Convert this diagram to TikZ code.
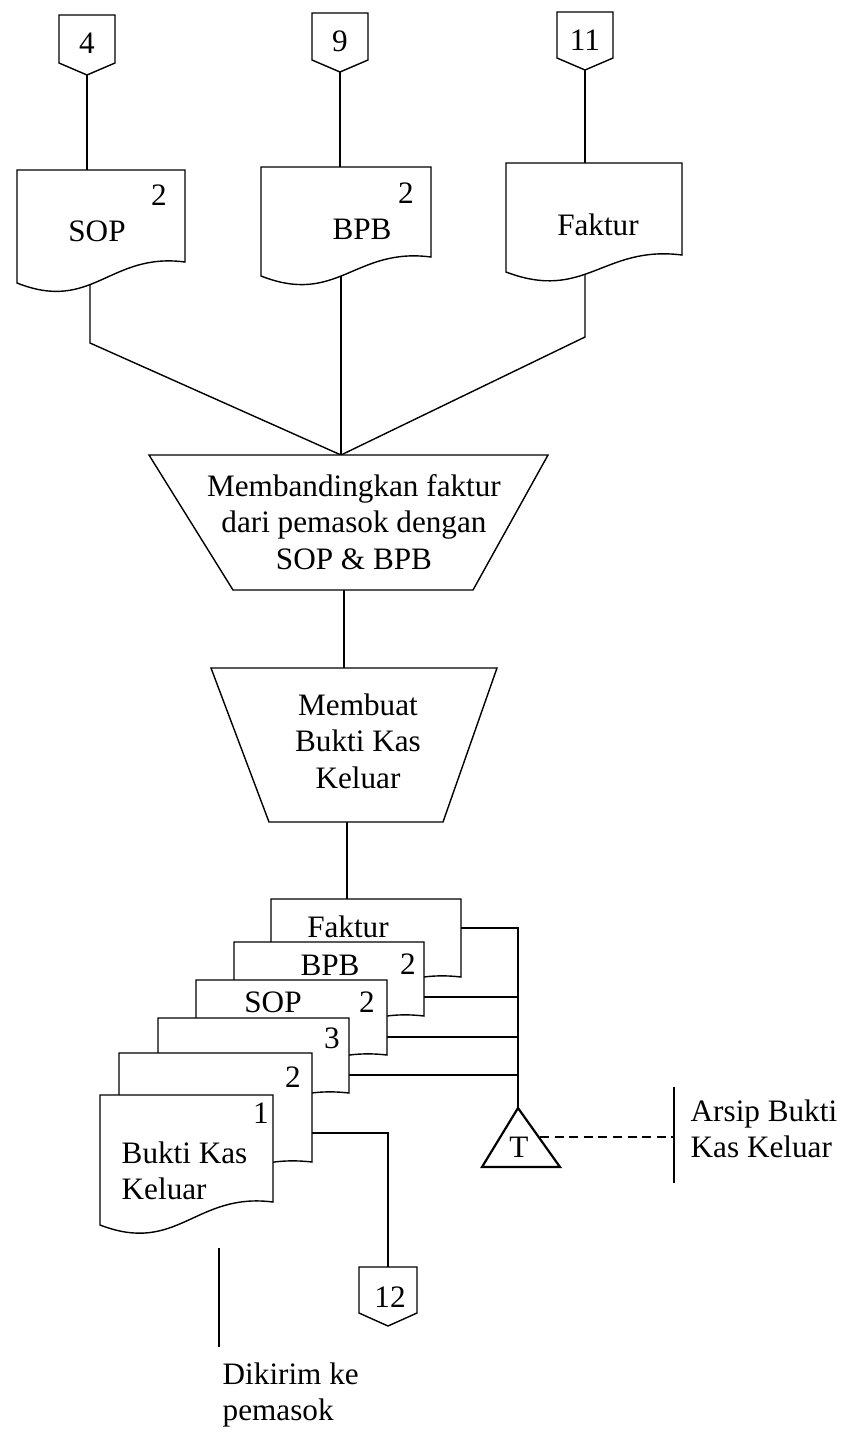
\documentclass[tikz,border=0pt]{standalone}
\usepackage{fontspec}
\setmainfont{Liberation Serif}
% document symbol: left x, right x, top y, bottom y at right edge, bottom y at left edge
\newcommand\flowdoc[5]{%
  \filldraw[fill=white] (#1,#3) -- (#2,#3) -- (#2,#4)
    .. controls ({#1+0.55*(#2-#1)},{#4-10}) and ({#1+0.45*(#2-#1)},{#5+30}) .. (#1,#5) -- cycle;}
% off-page connector: centre x, top y, half width, y where the sides end, tip y
\newcommand\offpage[5]{%
  \filldraw[fill=white] ({#1-#3},#2) -- ({#1+#3},#2) -- ({#1+#3},#4) -- (#1,#5) -- ({#1-#3},#4) -- cycle;}
\begin{document}
\begin{tikzpicture}[x=0.5pt,y=-0.5pt,line width=0.7pt,
  txt/.style={inner sep=0pt,font=\fontsize{15.6}{18.2}\selectfont},
  multi/.style={txt,align=center},
  leftblock/.style={txt,align=left,anchor=north west},
  filetri/.style={line width=1.1pt,line join=miter},
  archive/.style={dashed,dash pattern=on 4.5pt off 2.8pt}]
\useasboundingbox (0,0) rectangle (848,1432);

% ---------- anchor points ----------
\coordinate (c4b) at (87,75);   \coordinate (sopT) at (87,170);
\coordinate (c9b) at (340,72);  \coordinate (bpbT) at (340,167);
\coordinate (c11b) at (585,70); \coordinate (fakT) at (585,163);
\coordinate (sopB) at (90,270);  \coordinate (sopK) at (90,343);
\coordinate (bpbB) at (341,265);
\coordinate (fakB) at (585,262); \coordinate (fakK) at (585,337);
\coordinate (m1T) at (341,455);
\coordinate (m1B) at (344,590);  \coordinate (m2T) at (344,668);
\coordinate (m2B) at (347,822);  \coordinate (stT) at (347,899);
\coordinate (s5R) at (461,928);  \coordinate (bus1) at (518,928);
\coordinate (apex) at (518,1108);
\coordinate (s4R) at (424,997);  \coordinate (bus2) at (518,997);
\coordinate (s3R) at (387,1037); \coordinate (bus3) at (518,1037);
\coordinate (s2R) at (349,1075); \coordinate (bus4) at (518,1075);
\coordinate (s1R) at (312,1133); \coordinate (k12) at (388,1133);
\coordinate (c12t) at (388,1267);
\coordinate (tR) at (540,1137);  \coordinate (arsL) at (674,1137);
\coordinate (arsTop) at (674,1087); \coordinate (arsBot) at (674,1183);
\coordinate (kirTop) at (219,1248); \coordinate (kirBot) at (219,1347);

% ---------- flow lines ----------
\draw (c4b) -- (sopT);
\draw (c9b) -- (bpbT);
\draw (c11b) -- (fakT);
\draw (sopB) -- (sopK) -- (m1T);
\draw (bpbB) -- (m1T);
\draw (fakB) -- (fakK) -- (m1T);
\draw (m1B) -- (m2T);
\draw (m2B) -- (stT);
\draw (s5R) -- (bus1) -- (apex);
\draw (s4R) -- (bus2);
\draw (s3R) -- (bus3);
\draw (s2R) -- (bus4);
\draw (s1R) -- (k12) -- (c12t);
\draw[archive] (tR) -- (arsL);
\draw (arsTop) -- (arsBot);
\draw (kirTop) -- (kirBot);

% ---------- off-page connectors ----------
\offpage{87}{15}{28}{63}{75}
\offpage{340}{13}{28}{60}{72}
\offpage{585}{12}{28}{58}{70}
\offpage{388}{1267}{29}{1313}{1326}
\node[txt] (n4) at (87,43) {4};
\node[txt] (n9) at (340,41) {9};
\node[txt] (n11) at (585,40) {11};
\node[txt] (n12) at (390,1297) {12};

% ---------- incoming documents ----------
\flowdoc{17}{185}{170}{262}{283}
\flowdoc{261}{431}{167}{257}{276}
\flowdoc{506}{682}{163}{255}{272}
\node[txt] (sop) at (97,231) {SOP};
\node[txt] (sopn) at (159,195) {2};
\node[txt] (bpb) at (362,229) {BPB};
\node[txt] (bpbn) at (406,193) {2};
\node[txt] (fak) at (598,225) {Faktur};

% ---------- manual operations ----------
\filldraw[fill=white] (149,455) -- (548,455) -- (473,590) -- (233,590) -- cycle;
\node[multi] (cmp) at (354,522) {Membandingkan faktur\\dari pemasok dengan\\SOP \& BPB};
\filldraw[fill=white] (211,668) -- (497,668) -- (443,822) -- (269,822) -- cycle;
\node[multi] (mk) at (358,741) {Membuat\\Bukti Kas\\Keluar};

% ---------- document stack ----------
\flowdoc{271}{461}{899}{977}{997}
\flowdoc{234}{424}{942}{1016}{1036}
\flowdoc{196}{387}{980}{1055}{1075}
\flowdoc{158}{349}{1018}{1093}{1113}
\flowdoc{119}{312}{1053}{1162}{1182}
\flowdoc{100}{273}{1095}{1202}{1225}
\node[txt] (sfak) at (348,927) {Faktur};
\node[txt] (sbpb) at (330,965) {BPB};
\node[txt] (sbpbn) at (408,964) {2};
\node[txt] (ssop) at (273,1002) {SOP};
\node[txt] (ssopn) at (367,1002) {2};
\node[txt] (s3n) at (332,1038) {3};
\node[txt] (s2n) at (293,1077) {2};
\node[txt] (s1n) at (261,1113) {1};
\node[leftblock] (bkk) at (121,1141) {Bukti Kas\\Keluar};

% ---------- file ----------
\filldraw[filetri,fill=white] (apex) -- (560,1167) -- (482,1167) -- cycle;
\node[txt] (tt) at (519,1147) {T};

% ---------- notes ----------
\node[leftblock] (ars) at (690,1099) {Arsip Bukti\\Kas Keluar};
\node[leftblock] (kir) at (222,1362) {Dikirim ke\\pemasok};
\end{tikzpicture}
\end{document}
